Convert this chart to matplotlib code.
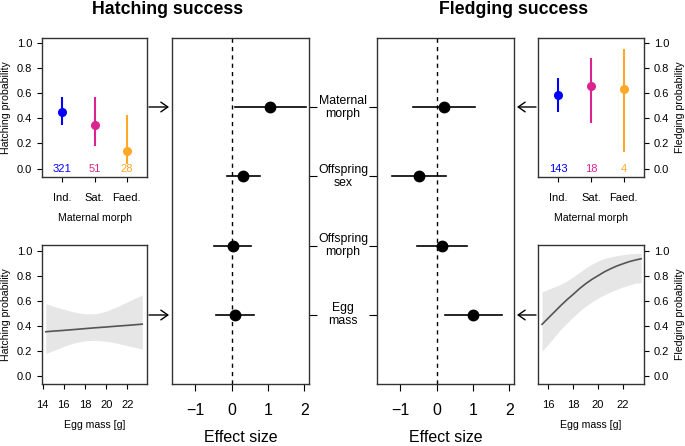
import matplotlib
matplotlib.use("Agg")
import matplotlib.pyplot as plt
import numpy as np

plt.rcParams['font.family'] = ['Liberation Sans', 'DejaVu Sans']

# ---------------- data ----------------
morphs = ["Ind.", "Sat.", "Faed."]
morph_colors = ["#0000FF", "#DA2591", "#FFA726"]

hatch_prob = [0.45, 0.35, 0.14]
hatch_lo = [0.35, 0.18, 0.04]
hatch_hi = [0.57, 0.57, 0.43]
hatch_n = ["321", "51", "28"]

fledge_prob = [0.59, 0.66, 0.63]
fledge_lo = [0.45, 0.36, 0.13]
fledge_hi = [0.72, 0.88, 0.95]
fledge_n = ["143", "18", "4"]

effect_labels = ["Maternal\nmorph", "Offspring\nsex", "Offspring\nmorph", "Egg\nmass"]
hatch_est = [1.07, 0.31, 0.03, 0.10]
hatch_est_lo = [0.08, -0.14, -0.49, -0.44]
hatch_est_hi = [2.05, 0.77, 0.53, 0.63]

fledge_est = [0.21, -0.49, 0.15, 1.00]
fledge_est_lo = [-0.64, -1.22, -0.53, 0.24]
fledge_est_hi = [1.05, 0.25, 0.84, 1.79]

hatch_mass = [14.3, 15, 16, 17, 18, 19, 20, 21, 22, 23, 23.4]
hatch_fit = [0.351, 0.356, 0.362, 0.369, 0.376, 0.383, 0.389, 0.396, 0.402, 0.409, 0.412]
hatch_band_hi = [0.575, 0.555, 0.53, 0.508, 0.494, 0.495, 0.515, 0.55, 0.59, 0.63, 0.646]
hatch_band_lo = [0.178, 0.20, 0.235, 0.262, 0.278, 0.283, 0.275, 0.26, 0.24, 0.22, 0.213]

fledge_mass = [15.5, 16, 16.5, 17, 17.5, 18, 18.5, 19, 19.5, 20, 20.5, 21, 21.5,
               22, 22.5, 23, 23.45]
fledge_fit = [0.41, 0.46, 0.51, 0.56, 0.607, 0.65, 0.695, 0.735, 0.77, 0.80, 0.83,
              0.855, 0.877, 0.895, 0.912, 0.925, 0.935]
fledge_band_hi = [0.67, 0.69, 0.71, 0.73, 0.757, 0.79, 0.825, 0.86, 0.892, 0.918,
                  0.937, 0.95, 0.96, 0.968, 0.974, 0.978, 0.98]
fledge_band_lo = [0.195, 0.25, 0.31, 0.37, 0.42, 0.47, 0.515, 0.555, 0.59, 0.62,
                  0.647, 0.67, 0.69, 0.71, 0.726, 0.74, 0.745]

hatch_mass_ticks = [14, 16, 18, 20, 22]
fledge_mass_ticks = [16, 18, 20, 22]
prob_ticks = [0.0, 0.2, 0.4, 0.6, 0.8, 1.0]
effect_ticks = [-1, 0, 1, 2]

# ---------------- figure ----------------
W, H = 685, 446
fig = plt.figure(figsize=(W / 100, H / 100), dpi=100)

def add_ax(x0, y0, x1, y1):
    return fig.add_axes([x0 / W, 1 - y1 / H, (x1 - x0) / W, (y1 - y0) / H])

ax_hm = add_ax(42, 38, 147, 177)
ax_he = add_ax(42, 245, 147, 384)
ax_hc = add_ax(172, 38, 309, 384)
ax_fc = add_ax(377, 38, 514, 384)
ax_fm = add_ax(538, 38, 644, 177)
ax_fe = add_ax(538, 245, 644, 384)

box_col = "#333333"
for ax in [ax_hm, ax_he, ax_hc, ax_fc, ax_fm, ax_fe]:
    for s in ax.spines.values():
        s.set_color(box_col)
        s.set_linewidth(1.0)
    ax.tick_params(colors="black", width=0.8, length=3.5, labelsize=8)

small_fs = 8
label_fs = 7.6

def set_ylabel_pos(ax, text, right):
    ax.set_ylabel(text, fontsize=label_fs)
    if right:
        ax.yaxis.set_label_position("right")
        ax.yaxis.set_label_coords(1.29, 0.5)
    else:
        ax.yaxis.set_label_coords(-0.295, 0.5)

def morph_panel(ax, prob, lo, hi, ns, right):
    xs = np.arange(1, len(morphs) + 1)
    for x, p, l, h, c, n in zip(xs, prob, lo, hi, morph_colors, ns):
        ax.plot([x, x], [l, h], color=c, lw=1.5, solid_capstyle="butt")
        ax.plot(x, p, "o", color=c, ms=5.5)
        ax.text(x, 0.0, n, color=c, ha="center", va="center", fontsize=small_fs)
    ax.set_xlim(0.37, 3.63)
    ax.set_ylim(-0.067, 1.04)
    ax.set_xticks(xs)
    ax.set_xticklabels(morphs, fontsize=small_fs)
    ax.tick_params(axis="x", pad=8)
    ax.set_yticks(prob_ticks)
    ax.set_yticklabels([f"{t:.1f}" for t in prob_ticks], fontsize=small_fs)
    ax.set_xlabel("Maternal morph", fontsize=label_fs, labelpad=7)
    if right:
        ax.yaxis.tick_right()

def mass_panel(ax, mass, fit, lo, hi, ticks, xlim, right):
    ax.fill_between(mass, lo, hi, color="#E6E6E6", lw=0)
    ax.plot(mass, fit, color="#555555", lw=1.2)
    ax.set_xlim(*xlim)
    ax.set_ylim(-0.067, 1.045)
    ax.set_xticks(ticks)
    ax.set_xticklabels([str(t) for t in ticks], fontsize=small_fs)
    ax.tick_params(axis="x", pad=8)
    ax.set_yticks(prob_ticks)
    ax.set_yticklabels([f"{t:.1f}" for t in prob_ticks], fontsize=small_fs)
    ax.set_xlabel("Egg mass [g]", fontsize=label_fs, labelpad=7)
    if right:
        ax.yaxis.tick_right()

morph_panel(ax_hm, hatch_prob, hatch_lo, hatch_hi, hatch_n, False)
morph_panel(ax_fm, fledge_prob, fledge_lo, fledge_hi, fledge_n, True)
mass_panel(ax_he, hatch_mass, hatch_fit, hatch_band_lo, hatch_band_hi,
           hatch_mass_ticks, (13.94, 23.85), False)
mass_panel(ax_fe, fledge_mass, fledge_fit, fledge_band_lo, fledge_band_hi,
           fledge_mass_ticks, (15.18, 23.68), True)

for ax in [ax_hm, ax_he]:
    set_ylabel_pos(ax, "Hatching probability", False)
for ax in [ax_fm, ax_fe]:
    set_ylabel_pos(ax, "Fledging probability", True)

def effect_panel(ax, est, lo, hi, right_ticks):
    ys = np.arange(1, len(est) + 1)
    ax.axvline(0, color="black", lw=1.0, ls=(0, (3, 3)))
    for y, e, l, h in zip(ys, est, lo, hi):
        ax.plot([l, h], [y, y], color="black", lw=1.2)
        ax.plot(e, y, "o", color="black", ms=7.5)
    ax.set_xlim(-1.64, 2.13)
    ax.set_ylim(5, 0)
    ax.set_xticks(effect_ticks)
    ax.set_xticklabels(["\u22121", "0", "1", "2"], fontsize=11.5)
    ax.tick_params(axis="x", pad=9, length=5)
    ax.set_yticks(ys)
    ax.set_yticklabels([])
    ax.tick_params(axis="y", length=6)
    if right_ticks:
        ax.yaxis.tick_right()
    ax.set_xlabel("Effect size", fontsize=11.5, labelpad=8)

effect_panel(ax_hc, hatch_est, hatch_est_lo, hatch_est_hi, True)
effect_panel(ax_fc, fledge_est, fledge_est_lo, fledge_est_hi, False)

# row labels between the two effect panels
for i, lab in enumerate(effect_labels):
    ax_hc.annotate(lab, xy=(1.0, i + 1), xycoords=("axes fraction", "data"),
                   xytext=(343 - 309, 0), textcoords="offset pixels",
                   ha="center", va="center", fontsize=8.8, linespacing=1.15)

# arrows
def arrow(x0, x1, y):
    fig.add_artist(matplotlib.patches.FancyArrowPatch(
        (x0 / W, 1 - y / H), (x1 / W, 1 - y / H), transform=fig.transFigure,
        arrowstyle="->,head_length=5,head_width=3.5", color="black", lw=1.0,
        shrinkA=0, shrinkB=0, mutation_scale=1))

arrow(149, 169, 107)
arrow(149, 169, 315)
arrow(536, 517, 107)
arrow(536, 517, 315)

# titles
fig.text(168 / W, 1 - 10 / H, "Hatching success", ha="center", va="center",
         fontsize=12.8, fontweight="bold")
fig.text(514 / W, 1 - 10 / H, "Fledging success", ha="center", va="center",
         fontsize=12.8, fontweight="bold")

fig.savefig("out.png", dpi=100)
